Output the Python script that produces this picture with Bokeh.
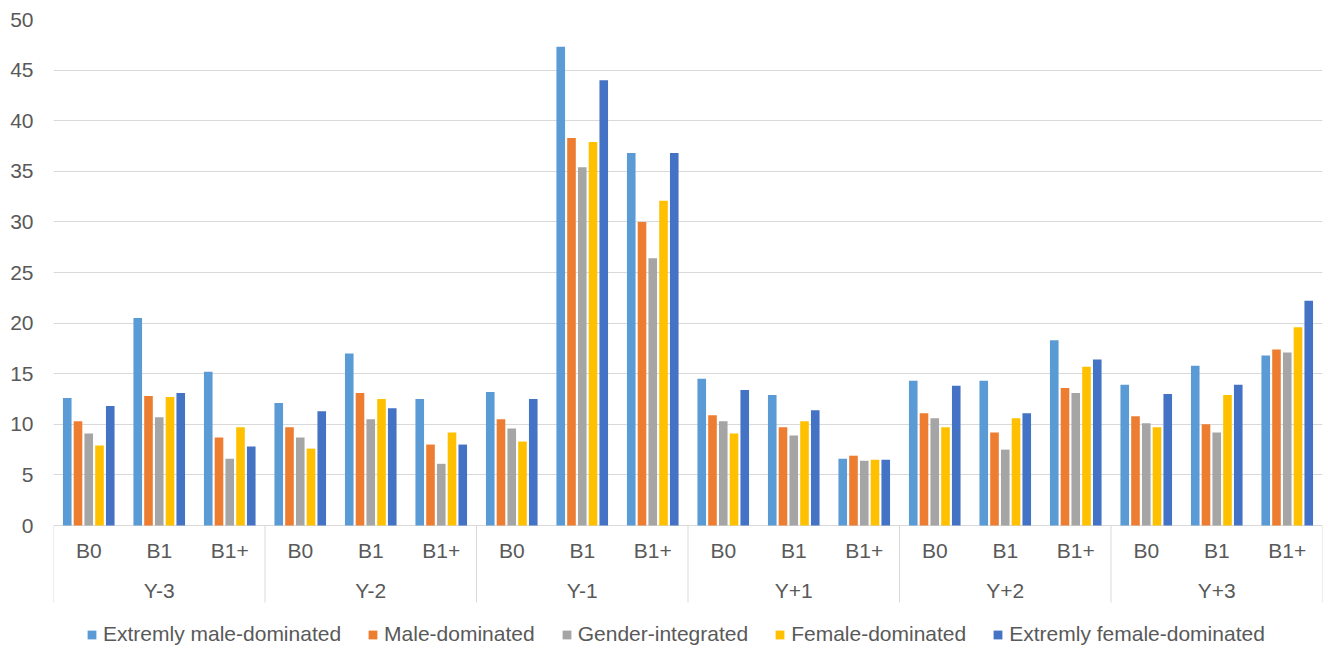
from bokeh.plotting import figure
from bokeh.models import (FactorRange, Range1d, FixedTicker, ColumnDataSource,
                          Legend, LegendItem)
from bokeh.transform import dodge
from bokeh.core.properties import value
from bokeh.embed import file_html
from bokeh.resources import INLINE

# Categories: period relative to the event, then band
years = ["Y-3", "Y-2", "Y-1", "Y+1", "Y+2", "Y+3"]
bands = ["B0", "B1", "B1+"]

series_names = ["Extremly male-dominated", "Male-dominated", "Gender-integrated",
                "Female-dominated", "Extremly female-dominated"]
series_colors = ["#5B9BD5", "#ED7D31", "#A5A5A5", "#FFC000", "#4472C4"]

# Values in order Y-3 (B0, B1, B1+), Y-2 (...), ... Y+3 (...)
extremely_male = [12.6, 20.5, 15.2, 12.1, 17.0, 12.5, 13.2, 47.3, 36.8,
                  14.5, 12.9, 6.6, 14.3, 14.3, 18.3, 13.9, 15.8, 16.8]
male = [10.3, 12.8, 8.7, 9.7, 13.1, 8.0, 10.5, 38.3, 30.0,
        10.9, 9.7, 6.9, 11.1, 9.2, 13.6, 10.8, 10.0, 17.4]
gender_integrated = [9.1, 10.7, 6.6, 8.7, 10.5, 6.1, 9.6, 35.4, 26.4,
                     10.3, 8.9, 6.4, 10.6, 7.5, 13.1, 10.1, 9.2, 17.1]
female = [7.9, 12.7, 9.7, 7.6, 12.5, 9.2, 8.3, 37.9, 32.1,
          9.1, 10.3, 6.5, 9.7, 10.6, 15.7, 9.7, 12.9, 19.6]
extremely_female = [11.8, 13.1, 7.8, 11.3, 11.6, 8.0, 12.5, 44.0, 36.8,
                    13.4, 11.4, 6.5, 13.8, 11.1, 16.4, 13.0, 13.9, 22.2]

y_ticks = [0, 5, 10, 15, 20, 25, 30, 35, 40, 45, 50]

FONT = "Liberation Sans"
TEXT_COLOR = "#595959"
LINE_COLOR = "#D9D9D9"

factors = [(y, b) for y in years for b in bands]
columns = ["em", "m", "gi", "f", "ef"]
source = ColumnDataSource(data=dict(
    cat=factors,
    band=[b for _, b in factors],
    em=extremely_male, m=male, gi=gender_integrated, f=female, ef=extremely_female,
))

x_range = FactorRange(*factors, factor_padding=0, group_padding=0, range_padding=0)
p = figure(x_range=x_range, y_range=Range1d(-12.15, 50),
           width=1329, height=648, output_backend="svg", toolbar_location=None,
           x_axis_location=None,
           min_border_left=53, min_border_right=7, min_border_top=19, min_border_bottom=0)
p.outline_line_color = None
p.background_fill_color = "white"
p.border_fill_color = "white"
p.xgrid.visible = False

# value axis
p.yaxis.ticker = FixedTicker(ticks=y_ticks)
p.yaxis.axis_line_color = None
p.yaxis.major_tick_line_color = None
p.yaxis.minor_tick_line_color = None
p.yaxis.major_tick_in = 0
p.yaxis.major_tick_out = 0
p.yaxis.minor_tick_in = 0
p.yaxis.minor_tick_out = 0
p.yaxis.major_label_standoff = 20
p.yaxis.major_label_text_font = FONT
p.yaxis.major_label_text_font_size = "21px"
p.yaxis.major_label_text_color = TEXT_COLOR
p.ygrid.ticker = FixedTicker(ticks=y_ticks)
p.ygrid.grid_line_color = LINE_COLOR
p.ygrid.grid_line_width = 1

# grouped bars, five per band
pitch = 0.1525
renderers = []
for i, (col, color) in enumerate(zip(columns, series_colors)):
    r = p.vbar(x=dodge("cat", (i - 2) * pitch, range=x_range), top=col, bottom=0,
               width=0.122, source=source, fill_color=color, line_color=None)
    renderers.append(r)

# category box: separators between periods and at both ends
left_edges = ColumnDataSource(data=dict(cat=[(y, "B0") for y in years]))
right_edge = ColumnDataSource(data=dict(cat=[(years[-1], "B1+")]))
p.segment(x0=dodge("cat", -0.5, range=x_range), x1=dodge("cat", -0.5, range=x_range),
          y0=0, y1=-7.6, source=left_edges, line_color=LINE_COLOR, line_width=1)
p.segment(x0=dodge("cat", 0.5, range=x_range), x1=dodge("cat", 0.5, range=x_range),
          y0=0, y1=-7.6, source=right_edge, line_color=LINE_COLOR, line_width=1)

# band labels and period labels
p.text(x="cat", y=-2.5, text="band", source=source,
       text_font=value(FONT), text_font_size=value("21px"), text_color=TEXT_COLOR,
       text_align="center", text_baseline="middle")
period_src = ColumnDataSource(data=dict(cat=[(y, "B1") for y in years], label=years))
p.text(x="cat", y=-6.42, text="label", source=period_src,
       text_font=value(FONT), text_font_size=value("21px"), text_color=TEXT_COLOR,
       text_align="center", text_baseline="middle")

legend = Legend(
    items=[LegendItem(label=n, renderers=[r]) for n, r in zip(series_names, renderers)],
    orientation="horizontal", location=(33, 2),
    padding=0, margin=0, border_line_color=None, background_fill_alpha=0,
    glyph_width=11, glyph_height=11, label_standoff=6, spacing=26,
    label_text_font=FONT, label_text_font_size="21px", label_text_color=TEXT_COLOR,
)
p.add_layout(legend)

open("out.html", "w").write(file_html(p, INLINE))
